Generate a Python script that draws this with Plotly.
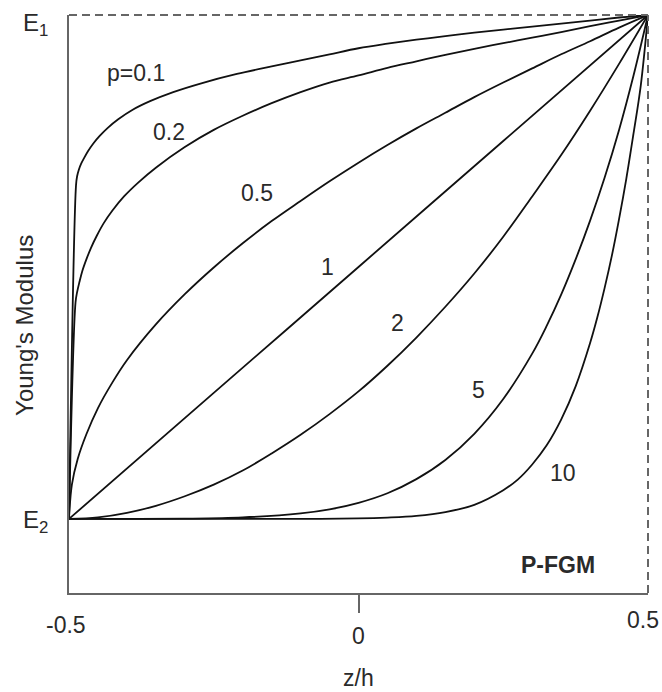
import plotly.graph_objects as go

# ---- data (z/h, normalised modulus: E2=0, E1=1) ----
p01_x = [-0.5, -0.4879, -0.486, -0.483, -0.479, -0.474, -0.467, -0.458, -0.447, -0.433, -0.415, -0.39, -0.36, -0.32, -0.27, -0.21, -0.15, -0.1, -0.05, 0.0, 0.05, 0.1, 0.15, 0.2, 0.25, 0.3, 0.35, 0.4, 0.45, 0.5]
p01_y = [0.0, 0.662, 0.680, 0.693, 0.705, 0.716, 0.730, 0.745, 0.760, 0.776, 0.793, 0.812, 0.829, 0.847, 0.865, 0.883, 0.898, 0.910, 0.922, 0.934, 0.943, 0.951, 0.958, 0.965, 0.971, 0.977, 0.983, 0.989, 0.995, 1.0]

p02_x = [-0.5, -0.4887, -0.486, -0.482, -0.477, -0.470, -0.462, -0.452, -0.44, -0.425, -0.405, -0.38, -0.35, -0.3, -0.25, -0.2, -0.15, -0.1, -0.05, 0.0, 0.05, 0.1, 0.15, 0.2, 0.25, 0.3, 0.35, 0.4, 0.45, 0.5]
p02_y = [0.0, 0.430, 0.450, 0.470, 0.492, 0.515, 0.538, 0.562, 0.587, 0.612, 0.640, 0.668, 0.697, 0.738, 0.772, 0.800, 0.825, 0.847, 0.866, 0.880, 0.895, 0.908, 0.921, 0.933, 0.944, 0.955, 0.966, 0.978, 0.989, 1.0]

p05_x = [-0.5, -0.495, -0.485, -0.47, -0.45, -0.425, -0.4, -0.35, -0.3, -0.25, -0.2, -0.15, -0.1, -0.05, 0.0, 0.05, 0.1, 0.15, 0.2, 0.25, 0.3, 0.35, 0.4, 0.45, 0.5]
p05_y = [0.0, 0.068, 0.119, 0.168, 0.220, 0.271, 0.315, 0.386, 0.446, 0.499, 0.547, 0.591, 0.631, 0.670, 0.707, 0.742, 0.775, 0.806, 0.837, 0.866, 0.894, 0.922, 0.948, 0.975, 1.0]

p1_x = [-0.5, -0.25, 0.0, 0.25, 0.5]
p1_y = [0.0, 0.25, 0.5, 0.75, 1.0]

p2_x = [-0.5, -0.45, -0.4, -0.35, -0.3, -0.25, -0.2, -0.15, -0.1, -0.05, 0.0, 0.05, 0.1, 0.15, 0.2, 0.25, 0.3, 0.35, 0.4, 0.45, 0.5]
p2_y = [0.0, 0.003, 0.012, 0.026, 0.045, 0.068, 0.096, 0.130, 0.167, 0.208, 0.253, 0.304, 0.360, 0.421, 0.487, 0.560, 0.640, 0.722, 0.810, 0.903, 1.0]

p5_x = [-0.5, -0.4, -0.3, -0.2, -0.1, -0.05, 0.0, 0.05, 0.1, 0.15, 0.2, 0.25, 0.3, 0.325, 0.35, 0.375, 0.4, 0.425, 0.45, 0.475, 0.5]
p5_y = [0.0, 0.0, 0.0005, 0.003, 0.011, 0.019, 0.032, 0.051, 0.079, 0.117, 0.169, 0.238, 0.328, 0.383, 0.445, 0.515, 0.592, 0.677, 0.772, 0.880, 1.0]

p10_x = [-0.5, -0.4, -0.3, -0.2, -0.1, 0.0, 0.05, 0.1, 0.15, 0.2, 0.25, 0.275, 0.3, 0.325, 0.35, 0.375, 0.4, 0.4125, 0.425, 0.4375, 0.45, 0.4625, 0.475, 0.4875, 0.5]
p10_y = [0.0, 0.0, 0.0, 0.0, 0.0001, 0.001, 0.0027, 0.006, 0.0135, 0.028, 0.057, 0.078, 0.108, 0.146, 0.197, 0.263, 0.349, 0.400, 0.458, 0.522, 0.595, 0.675, 0.765, 0.860, 1.0]

curve_labels = ["p=0.1", "0.2", "0.5", "1", "2", "5", "10"]
label_x = [-0.3839, -0.3267, -0.1759, -0.0529, 0.0667, 0.2071, 0.3527]
label_y = [0.885, 0.768, 0.647, 0.500, 0.389, 0.256, 0.091]

x_tick_vals = [-0.5, 0, 0.5]
x_tick_text = ["-0.5", "0", "0.5"]
y_tick_vals = [0, 1]
y_tick_text = ["E<sub>2</sub>", "E<sub>1</sub>"]

series = [(p01_x, p01_y), (p02_x, p02_y), (p05_x, p05_y), (p1_x, p1_y),
          (p2_x, p2_y), (p5_x, p5_y), (p10_x, p10_y)]

FONT = "Liberation Sans, Arial, sans-serif"
TXT = "#2a2a2a"
AX = "#666666"

fig = go.Figure()
for xs, ys in series:
    fig.add_trace(go.Scatter(x=xs, y=ys, mode="lines",
                             line=dict(color="#111111", width=1.8, shape="spline", smoothing=1.0),
                             cliponaxis=False, showlegend=False, hoverinfo="skip"))

ann = []
for t, x, y in zip(curve_labels, label_x, label_y):
    ann.append(dict(x=x, y=y, xref="x", yref="y", text=t, showarrow=False,
                    font=dict(family=FONT, size=23, color=TXT)))

# x tick labels (staggered as in the reference)
xt_shift = [-32, -43, -27]
xt_xshift = [-3, 0, -5]
for v, t, ys, xs in zip(x_tick_vals, x_tick_text, xt_shift, xt_xshift):
    ann.append(dict(x=v, y=0, xref="x", yref="paper", text=t, showarrow=False,
                    yshift=ys, xshift=xs, yanchor="middle", xanchor="center",
                    font=dict(family=FONT, size=23, color=TXT)))

# y tick labels E2 / E1
yt_shift = [-3, -9]
for v, t, ys in zip(y_tick_vals, y_tick_text, yt_shift):
    ann.append(dict(x=0, y=v, xref="paper", yref="y", text=t, showarrow=False,
                    xanchor="right", yanchor="middle", xshift=-19, yshift=ys,
                    font=dict(family=FONT, size=24, color=TXT)))

ann.append(dict(x=0, y=0, xref="x", yref="paper", text="z/h", showarrow=False,
                yshift=-85, yanchor="middle", xanchor="center",
                font=dict(family=FONT, size=23, color=TXT)))
ann.append(dict(x=0, y=0.383, xref="paper", yref="y", text="Young's Modulus", showarrow=False,
                textangle=-90, xshift=-44, xanchor="center", yanchor="middle",
                font=dict(family=FONT, size=24, color=TXT)))
ann.append(dict(x=0.344, y=-0.091, xref="x", yref="y", text="<b>P-FGM</b>", showarrow=False,
                font=dict(family=FONT, size=23, color=TXT)))

fig.update_layout(
    width=662, height=692,
    margin=dict(l=69, r=14, t=15, b=99),
    paper_bgcolor="white", plot_bgcolor="white",
    annotations=ann,
    xaxis=dict(range=[-0.5, 0.5], showgrid=False, zeroline=False,
               showline=True, linecolor=AX, linewidth=2,
               tickvals=x_tick_vals, showticklabels=False, ticks="",
               minor=dict(tickvals=[0], ticks="outside", ticklen=18, tickcolor=AX, tickwidth=2)),
    yaxis=dict(range=[-0.147, 1.0], showgrid=False, zeroline=False,
               showline=True, linecolor=AX, linewidth=2,
               tickvals=y_tick_vals, showticklabels=False, ticks=""),
    shapes=[
        dict(type="line", xref="paper", yref="paper", x0=0, y0=1, x1=1, y1=1,
             line=dict(color=AX, width=2, dash="8px,5px")),
        dict(type="line", xref="paper", yref="paper", x0=1, y0=0, x1=1, y1=1,
             line=dict(color=AX, width=2, dash="8px,5px")),
    ],
)

fig.write_html("out.html")
